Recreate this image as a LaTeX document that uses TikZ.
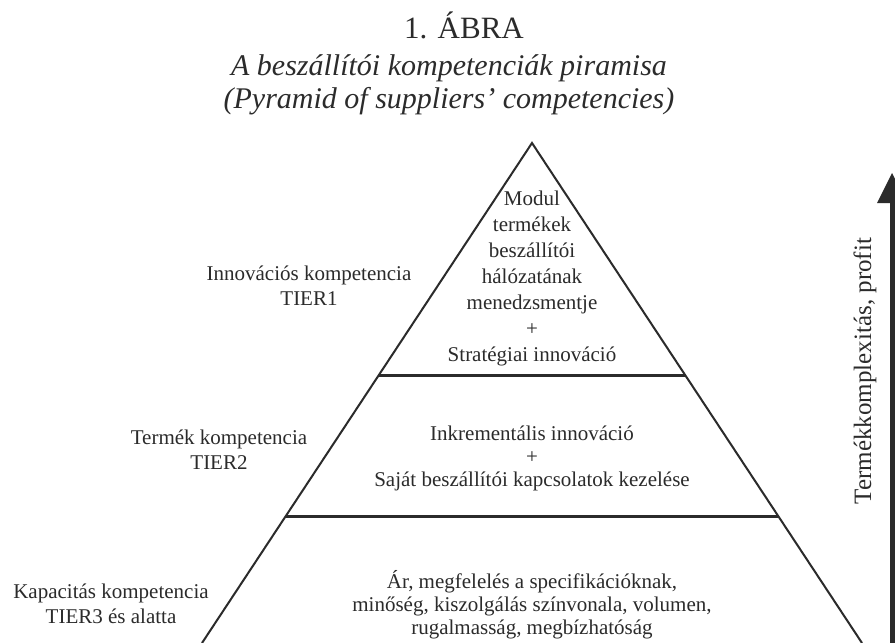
\documentclass[tikz,border=0pt]{standalone}
\usepackage{fontspec}
\setmainfont{Liberation Serif}
\definecolor{ink}{HTML}{2B2B2B}
\begin{document}
\begin{tikzpicture}[x=1pt,y=-1pt,
  edge/.style={draw=ink,line width=2pt},
  sep/.style={draw=ink,line width=3pt},
  body/.style={text=ink,align=center,inner sep=0pt,font=\fontsize{21}{26}\selectfont},
  lab/.style={text=ink,align=center,inner sep=0pt,font=\fontsize{21}{25}\selectfont},
  ttl/.style={text=ink,align=center,inner sep=0pt,anchor=base}]
\useasboundingbox (0,0) rectangle (895,643);
\clip (0,0) rectangle (895,643);
\fill[white] (0,0) rectangle (895,643);
% pyramid
\coordinate (apex) at (532,143);
\coordinate (bl) at (202,643);
\coordinate (br) at (862,643);
\coordinate (s1l) at (379,375);
\coordinate (s1r) at (685,375);
\coordinate (s2l) at (286,516);
\coordinate (s2r) at (778,516);
\draw[edge,line join=miter] (bl) -- (apex) -- (br);
\draw[sep] (s1l) -- (s1r);
\draw[sep] (s2l) -- (s2r);
% titles
\node[ttl,font=\fontsize{31}{34}\selectfont] (t1) at (464,38) {1. ÁBRA};
\node[ttl,font=\fontsize{30}{33}\selectfont\itshape] (t2) at (449,75) {A beszállítói kompetenciák piramisa};
\node[ttl,font=\fontsize{30}{33}\selectfont\itshape] (t3) at (449,108) {(Pyramid of suppliers’ competencies)};
% pyramid texts
\node[body] (top) at (532,278) {Modul\\termékek\\beszállítói\\hálózatának\\menedzsmentje\\+\\Stratégiai innováció};
\node[body,font=\fontsize{21}{23}\selectfont] (mid) at (532,458) {Inkrementális innováció\\+\\Saját beszállítói kapcsolatok kezelése};
\node[body,font=\fontsize{21}{23}\selectfont] (bot) at (532,605) {Ár, megfelelés a specifikációknak,\\minőség, kiszolgálás színvonala, volumen,\\rugalmasság, megbízhatóság};
% labels
\node[lab] (l1) at (309,286) {Innovációs kompetencia\\TIER1};
\node[lab] (l2) at (219,450) {Termék kompetencia\\TIER2};
\node[lab] (l3) at (111,604) {Kapacitás kompetencia\\TIER3 és alatta};
% arrow
\coordinate (abot) at (892,650);
\coordinate (atip) at (892,173);
\coordinate (abase) at (892,203);
\draw[draw=ink,line width=5pt] (abot) -- (abase);
\fill[ink] ([xshift=-15pt]abase) -- (atip) -- ([xshift=15pt]abase) -- cycle;
\node[text=ink,inner sep=0pt,rotate=90,font=\fontsize{25}{30}\selectfont] (alab) at (865,371) {Termékkomplexitás, profit};
\end{tikzpicture}
\end{document}
